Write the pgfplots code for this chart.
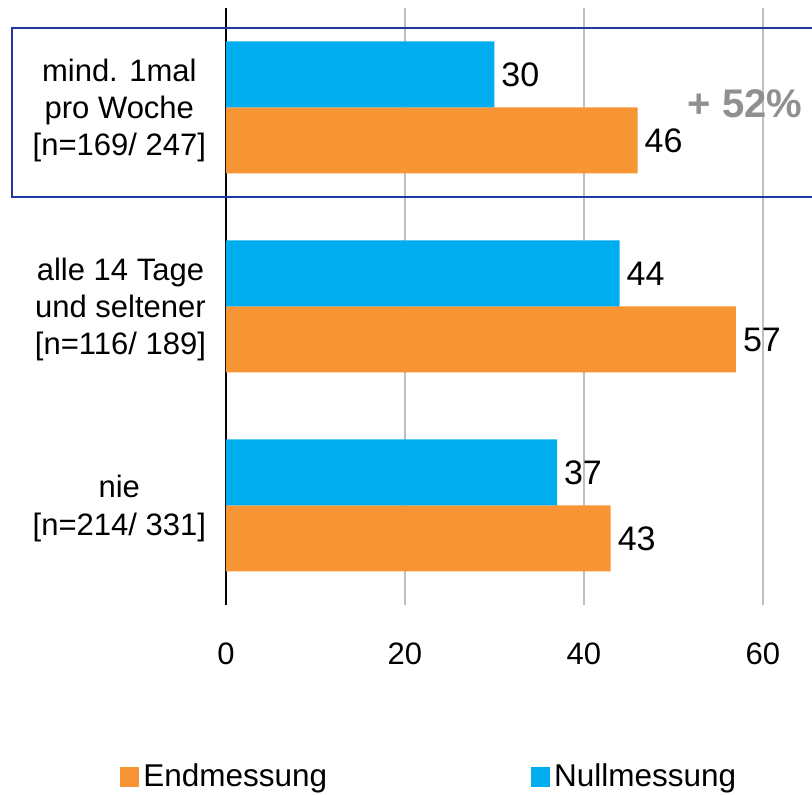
\documentclass[border=0pt]{standalone}
\usepackage{pgfplots}
\pgfplotsset{compat=1.18}
\usepackage{fontspec}
\setmainfont{Liberation Sans}
\definecolor{nullblau}{RGB}{0,174,239}
\definecolor{endorange}{RGB}{247,148,51}
\definecolor{rahmen}{RGB}{32,56,160}
\definecolor{gitter}{RGB}{191,191,191}
\definecolor{plusgrau}{RGB}{144,144,144}
\newcommand{\lblfont}{\fontsize{15.5}{18.6}\selectfont}
\newcommand{\valfont}{\fontsize{17}{20}\selectfont}
\begin{document}
\begin{tikzpicture}
\clip (-113pt,-95pt) rectangle (293pt,302.5pt);
\begin{axis}[
    at={(0,0)}, anchor=south west,
    scale only axis,
    width=293pt, height=298.5pt,
    xbar=0pt, bar width=33pt,
    xmin=0, xmax=65.5, ymin=-0.5, ymax=2.5,
    xtick={0,20,40,60}, ytick={0,1,2},
    yticklabels={{nie\\{[}n=214/ 331]},
                 {alle 14 Tage\\und seltener\\{[}n=116/ 189]},
                 {mind. 1mal\\pro Woche\\{[}n=169/ 247]}},
    axis lines=left,
    axis line style={-},
    x axis line style={draw=none},
    y axis line style={black, line width=0.8pt},
    major tick length=0pt,
    xmajorgrids,
    major grid style={gitter, line width=0.8pt},
    tick label style={font=\lblfont},
    xticklabel style={yshift=-15.5pt},
    yticklabel style={align=center, xshift=-6.5pt, yshift=-1.5pt},
    /pgf/number format/assume math mode=true,
    nodes near coords,
    nodes near coords style={font=\valfont, text=black},
    clip=false,
    legend columns=2,
    legend style={at={(-0.181,-0.288)}, anchor=west, draw=none, fill=none,
        inner sep=0pt, font=\fontsize{15.75}{19}\selectfont,
        /tikz/every even column/.append style={column sep=100pt}},
    legend image code/.code={\fill[#1] (0pt,-5pt) rectangle (9.5pt,5pt);},
]
\addplot[fill=endorange, draw=none] coordinates {(43,0) (57,1) (46,2)};
\addplot[fill=nullblau, draw=none] coordinates {(37,0) (44,1) (30,2)};
\legend{Endmessung, Nullmessung}
\end{axis}
\draw[rahmen, line width=1pt] (-107pt,204pt) rectangle (300pt,288.5pt);
\node[text=plusgrau, font=\bfseries\fontsize{20}{24}\selectfont] at (259.5pt,250.5pt) {+ 52\%};
\end{tikzpicture}
\end{document}
